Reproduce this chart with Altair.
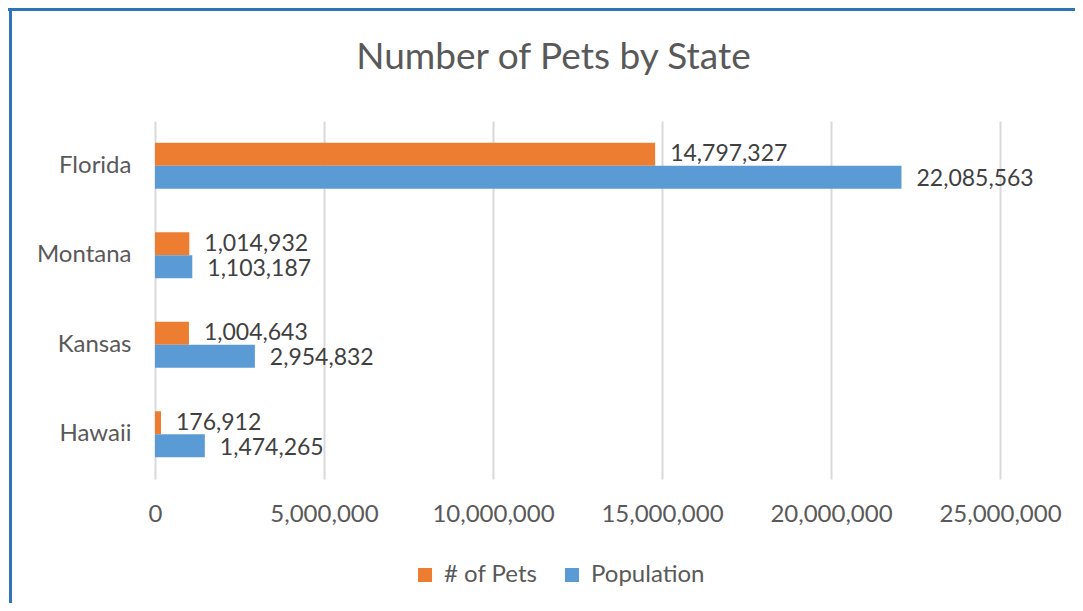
import altair as alt
import pandas as pd

title_text = "Number of Pets by State"
states = ["Florida", "Montana", "Kansas", "Hawaii"]
pets = [14797327, 1014932, 1004643, 176912]
population = [22085563, 1103187, 2954832, 1474265]
series = ["# of Pets", "Population"]
colors = ["#ED7D31", "#5B9BD5"]
x_ticks = [0, 5000000, 10000000, 15000000, 20000000, 25000000]

rows = []
for s, p, q in zip(states, pets, population):
    rows.append({"State": s, "Series": series[0], "Value": p})
    rows.append({"State": s, "Series": series[1], "Value": q})
df = pd.DataFrame(rows)

FONT = "Lato"
FS = 24
W, H = 845, 358

base = alt.Chart(df).encode(
    y=alt.Y("State:N", sort=states, title=None,
            scale=alt.Scale(paddingInner=0.486, paddingOuter=0.243),
            axis=alt.Axis(domain=False, ticks=False, labelPadding=24,
                          labelFontSize=FS, labelColor="#595959", labelFont=FONT)),
    yOffset=alt.YOffset("Series:N", sort=series, scale=alt.Scale(paddingInner=0, paddingOuter=0)),
)

bars = base.mark_bar().encode(
    x=alt.X("Value:Q", title=None,
            scale=alt.Scale(domain=[0, 25000000], nice=False),
            axis=alt.Axis(values=x_ticks, format=",d", domain=False, ticks=False,
                          labelPadding=23, labelFontSize=FS, labelColor="#595959",
                          labelFont=FONT, gridColor="#D9D9D9", gridWidth=2,
                          labelFlush=False)),
    color=alt.Color("Series:N", sort=series,
                    scale=alt.Scale(domain=series, range=colors),
                    legend=alt.Legend(title=None, orient="none", direction="horizontal",
                                      legendX=258, legendY=442, symbolType="square",
                                      symbolSize=196, symbolStrokeWidth=0,
                                      labelFontSize=FS, labelColor="#595959",
                                      labelFont=FONT, labelOffset=7, columnPadding=22)),
)

labels_pets = base.transform_filter(alt.datum.Series == series[0]).mark_text(
    align="left", baseline="middle", dx=15, dy=0,
    fontSize=23, font=FONT, color="#404040").encode(
    x=alt.X("Value:Q"),
    text=alt.Text("Value:Q", format=",d"),
)
labels_pop = base.transform_filter(alt.datum.Series == series[1]).mark_text(
    align="left", baseline="middle", dx=15, dy=2,
    fontSize=23, font=FONT, color="#404040").encode(
    x=alt.X("Value:Q"),
    text=alt.Text("Value:Q", format=",d"),
)

one = alt.Data(values=[{"t": title_text}])
left_border = alt.Chart(one).mark_rule(color="#2F75B5", strokeWidth=3).encode(
    x=alt.value(-144.5), y=alt.value(-113), y2=alt.value(H + 124))
top_border = alt.Chart(one).mark_rule(color="#2F75B5", strokeWidth=3).encode(
    y=alt.value(-111.5), x=alt.value(-147), x2=alt.value(W + 75))
title = alt.Chart(one).mark_text(fontSize=37, font=FONT, color="#595959",
                                 align="center", baseline="alphabetic").encode(
    text="t:N", x=alt.value(398.5), y=alt.value(-52))

chart = alt.layer(bars, labels_pets, labels_pop, left_border, top_border, title).properties(
    width=W, height=H,
    autosize=alt.AutoSizeParams(type="none"),
    padding={"left": 147, "top": 113, "right": 75, "bottom": 124},
    background="white",
).configure_view(stroke=None)

chart.save("out.html", embed_options={"renderer": "svg", "actions": False})
